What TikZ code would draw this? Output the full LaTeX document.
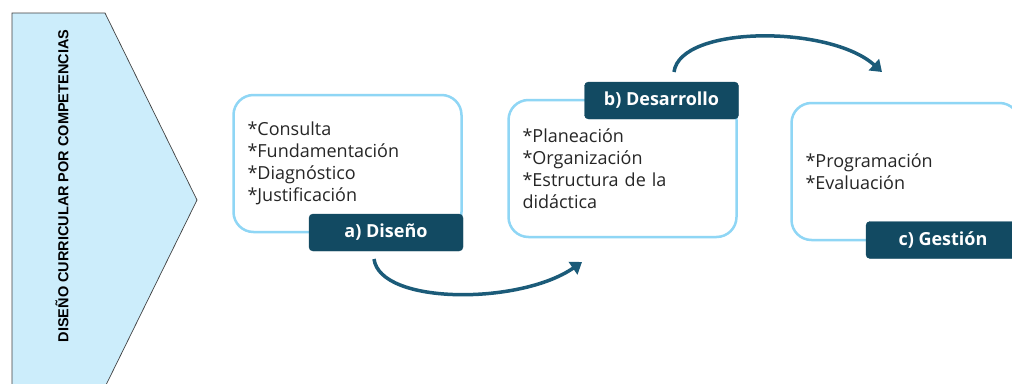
\documentclass[tikz,border=0pt]{standalone}
\usepackage{fontspec}
\setmainfont{Open Sans}
\newfontfamily\arialfont{Liberation Sans}
\usetikzlibrary{arrows.meta}
\definecolor{paleblue}{HTML}{CCEDFB}
\definecolor{edgeblue}{HTML}{8FD6F5}
\definecolor{darkteal}{HTML}{124A62}
\definecolor{arrowteal}{HTML}{1B5B79}
\tikzstyle{stage}=[draw=edgeblue, line width=2.5pt, rounded corners=20pt, fill=white, minimum height=137pt, text width=200pt, inner xsep=14pt, align=left, font=\fontsize{18}{22}\selectfont, text=black!85]
\tikzstyle{tag}=[fill=darkteal, draw=darkteal, rounded corners=4pt, minimum width=154pt, minimum height=37pt, text=white, font=\fontsize{18}{20}\selectfont\bfseries]
\tikzstyle{flow}=[draw=arrowteal, line width=3.5pt, -{Triangle[length=11pt, width=15pt]}]

\begin{document}
\begin{tikzpicture}[x=1pt, y=-1pt]
		   \clip (0, 0) rectangle (1012, 383);
		   \fill[white] (0, 0) rectangle (1012, 383);
		   \begin{scope}
			   \draw[fill=paleblue, draw=black!75, line width=0.7pt] (12, 13) -- (105, 13) -- (197, 200) -- (105, 387) -- (12, 387) -- cycle;
			   \node (title) at (62, 186)[rotate=90, font=\arialfont\fontsize{14.5}{16}\selectfont\bfseries] {DISEÑO CURRICULAR POR COMPETENCIAS};
		   \end{scope}
		   \begin{scope}
			   \node (boxA) at (347.5, 163.5)[stage] {*Consulta\\{}*Fundamentación\\{}*Diagnóstico\\{}*Justificación};
			   \node (boxB) at (622.5, 168.5)[stage] {*Planeación\\{}*Organización\\{}*Estructura de la\\didáctica};
			   \node (boxC) at (905.5, 171.5)[stage] {*Programación\\{}*Evaluación};
			   \node (tagA) at (386, 232.5)[tag] {a) Diseño};
			   \node (tagB) at (661.5, 100.5)[tag] {b) Desarrollo};
			   \node (tagC) at (943, 240)[tag] {c) Gestión};
		   \end{scope}
		   \begin{scope}
			   \coordinate (outA) at (374, 259);
			   \coordinate (inB) at (582, 262);
			   \coordinate (outB) at (674, 72);
			   \coordinate (inC) at (882, 72);
			   \path[flow] (outA) .. controls (380, 305) and (520, 305) .. (inB);
			   \path[flow] (outB) .. controls (680, 25) and (830, 25) .. (inC);
		   \end{scope}
	   \end{tikzpicture}
\end{document}
